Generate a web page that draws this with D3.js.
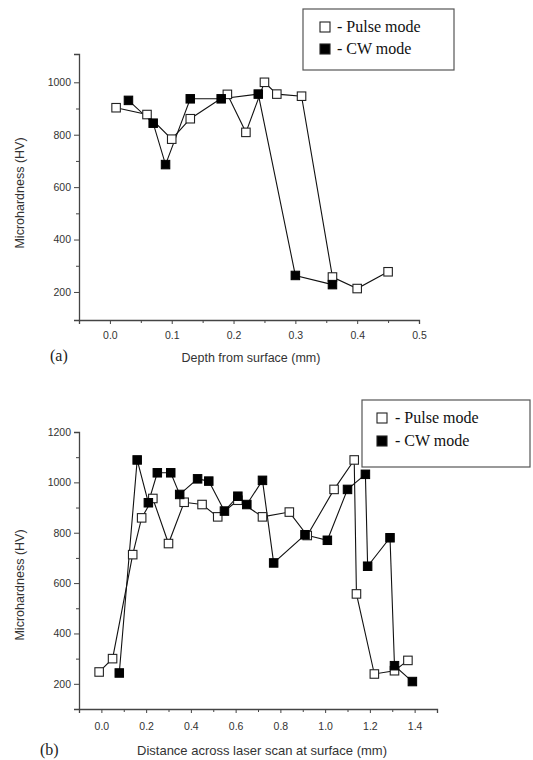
<!DOCTYPE html>
<html>
<head>
<meta charset="utf-8">
<script src="https://cdn.jsdelivr.net/npm/d3@7"></script>
<style>
  html, body { margin: 0; padding: 0; background: #fff; }
  svg { display: block; }
</style>
</head>
<body>
<svg id="chart" width="533" height="760"></svg>
<script>
// ---------- Data: chart (a) ----------
const aPulseX = [0.01, 0.06, 0.10, 0.13, 0.19, 0.22, 0.25, 0.27, 0.31, 0.36, 0.40, 0.45];
const aPulseY = [903, 877, 783, 861, 954, 809, 1000, 955, 947, 257, 213, 277];
const aCwX = [0.03, 0.07, 0.09, 0.13, 0.18, 0.24, 0.30, 0.36];
const aCwY = [931, 844, 686, 937, 937, 955, 263, 228];
const aXTicks = [0.0, 0.1, 0.2, 0.3, 0.4, 0.5];
const aXMinor = [-0.05, 0.05, 0.15, 0.25, 0.35, 0.45];
const aYTicks = [200, 400, 600, 800, 1000];
const aYMinor = [300, 500, 700, 900];

// ---------- Data: chart (b) ----------
const bPulseX = [-0.01, 0.05, 0.14, 0.18, 0.23, 0.30, 0.37, 0.45, 0.52, 0.61, 0.72, 0.84, 0.92, 1.04, 1.13, 1.14, 1.22, 1.31, 1.37];
const bPulseY = [247, 300, 713, 859, 936, 757, 921, 912, 863, 929, 863, 882, 789, 972, 1089, 557, 239, 252, 293];
const bCwX = [0.08, 0.16, 0.21, 0.25, 0.31, 0.35, 0.43, 0.48, 0.55, 0.61, 0.65, 0.72, 0.77, 0.91, 1.01, 1.10, 1.18, 1.19, 1.29, 1.31, 1.39];
const bCwY = [243, 1089, 919, 1038, 1038, 952, 1014, 1005, 886, 945, 912, 1008, 680, 792, 770, 972, 1032, 667, 780, 272, 209];
const bXTicks = [0.0, 0.2, 0.4, 0.6, 0.8, 1.0, 1.2, 1.4];
const bXMinor = [-0.1, 0.1, 0.3, 0.5, 0.7, 0.9, 1.1, 1.3, 1.5];
const bYTicks = [200, 400, 600, 800, 1000, 1200];
const bYMinor = [300, 500, 700, 900, 1100];

const seriesNames = ["- Pulse mode", "- CW mode"];
const yLabel = "Microhardness (HV)";

const svg = d3.select("#chart");
const sans = "'Liberation Sans', Arial, sans-serif";
const serif = "'Liberation Serif', 'Times New Roman', serif";
const axisColor = "#444";
const textColor = "#333";

function zip(xs, ys) { return xs.map((x, i) => [x, ys[i]]); }

function drawPanel(cfg) {
  const g = svg.append("g");
  const x = d3.scaleLinear().domain(cfg.xDomain).range(cfg.xRange);
  const y = d3.scaleLinear().domain(cfg.yDomain).range(cfg.yRange);

  // y axis (major)
  const yAxis = d3.axisLeft(y).tickValues(cfg.yTicks).tickSize(5).tickPadding(3).tickFormat(d3.format("d"));
  const ya = g.append("g").attr("transform", `translate(${cfg.xRange[0]},0)`).call(yAxis);
  ya.select(".domain").attr("stroke", axisColor).attr("stroke-width", 1.3);
  ya.selectAll(".tick line").attr("stroke", axisColor).attr("stroke-width", 1);
  ya.selectAll(".tick text").attr("font-family", sans).attr("font-size", 10.5).attr("fill", textColor);
  // y minor
  g.append("g").attr("transform", `translate(${cfg.xRange[0]},0)`)
    .call(d3.axisLeft(y).tickValues(cfg.yMinor).tickSize(3).tickFormat(""))
    .call(s => { s.select(".domain").remove(); s.selectAll(".tick line").attr("stroke", axisColor); });

  // x axis
  const xAxis = d3.axisBottom(x).tickValues(cfg.xTicks).tickSize(4).tickPadding(cfg.xPad).tickFormat(d3.format(".1f"));
  const xa = g.append("g").attr("transform", `translate(0,${cfg.yRange[0]})`).call(xAxis);
  xa.select(".domain").attr("stroke", axisColor).attr("stroke-width", 1.3);
  xa.selectAll(".tick line").attr("stroke", axisColor);
  xa.selectAll(".tick text").attr("font-family", sans).attr("font-size", 10.5).attr("fill", textColor);
  g.append("g").attr("transform", `translate(0,${cfg.yRange[0]})`)
    .call(d3.axisBottom(x).tickValues(cfg.xMinor).tickSize(3).tickFormat(""))
    .call(s => { s.select(".domain").remove(); s.selectAll(".tick line").attr("stroke", axisColor); });

  // lines
  const line = d3.line().x(d => x(d[0])).y(d => y(d[1]));
  const pulse = zip(cfg.pulseX, cfg.pulseY);
  const cw = zip(cfg.cwX, cfg.cwY);
  [pulse, cw].forEach(data => {
    g.append("path").datum(data).attr("d", line)
      .attr("fill", "none").attr("stroke", "#111").attr("stroke-width", 1.1);
  });
  const s = 8.5;
  g.selectAll(".pm").data(pulse).enter().append("rect")
    .attr("x", d => x(d[0]) - s / 2).attr("y", d => y(d[1]) - s / 2)
    .attr("width", s).attr("height", s)
    .attr("fill", "#fff").attr("stroke", "#222").attr("stroke-width", 1.1);
  g.selectAll(".cm").data(cw).enter().append("rect")
    .attr("x", d => x(d[0]) - s / 2).attr("y", d => y(d[1]) - s / 2)
    .attr("width", s).attr("height", s)
    .attr("fill", "#000").attr("stroke", "#000").attr("stroke-width", 1);

  // axis labels
  g.append("text").attr("transform", `translate(${cfg.yLabelX},${cfg.yLabelY}) rotate(-90)`)
    .attr("text-anchor", "middle").attr("font-family", sans).attr("font-size", 12.5)
    .attr("fill", textColor).text(yLabel);
  g.append("text").attr("x", cfg.xLabelX).attr("y", cfg.xLabelYPos)
    .attr("text-anchor", "middle").attr("font-family", sans).attr("font-size", cfg.xLabelSize)
    .attr("fill", textColor).text(cfg.xLabel);
  g.append("text").attr("x", cfg.tagX).attr("y", cfg.tagY)
    .attr("font-family", serif).attr("font-size", 16).attr("fill", "#222").text(cfg.tag);

  // legend
  const L = cfg.legend;
  g.append("rect").attr("x", L.x).attr("y", L.y).attr("width", L.w).attr("height", L.h)
    .attr("fill", "#fff").attr("stroke", "#555").attr("stroke-width", 1.2);
  const ls = 10;
  seriesNames.forEach((name, i) => {
    const cy = L.y + L.row0 + i * L.dy;
    g.append("rect").attr("x", L.symX - ls / 2).attr("y", cy - ls / 2).attr("width", ls).attr("height", ls)
      .attr("fill", i === 0 ? "#fff" : "#000").attr("stroke", "#222").attr("stroke-width", 1.1);
    g.append("text").attr("x", L.textX).attr("y", cy + 5)
      .attr("font-family", serif).attr("font-size", 16).attr("fill", "#111").text(name);
  });
}

drawPanel({
  xDomain: [-0.05, 0.5], xRange: [79, 419],
  yDomain: [93, 1108], yRange: [320, 54],
  xTicks: aXTicks, xMinor: aXMinor, yTicks: aYTicks, yMinor: aYMinor, xPad: 8,
  pulseX: aPulseX, pulseY: aPulseY, cwX: aCwX, cwY: aCwY,
  yLabelX: 24, yLabelY: 193,
  xLabel: "Depth from surface (mm)", xLabelX: 251, xLabelYPos: 362, xLabelSize: 12.5,
  tag: "(a)", tagX: 50, tagY: 361,
  legend: { x: 303, y: 9, w: 151, h: 61, row0: 18, dy: 22, symX: 325, textX: 337 }
});

drawPanel({
  xDomain: [-0.1, 1.5], xRange: [79, 437],
  yDomain: [100, 1200], yRange: [709, 432],
  xTicks: bXTicks, xMinor: bXMinor, yTicks: bYTicks, yMinor: bYMinor, xPad: 10,
  pulseX: bPulseX, pulseY: bPulseY, cwX: bCwX, cwY: bCwY,
  yLabelX: 24, yLabelY: 585,
  xLabel: "Distance across laser scan at surface (mm)", xLabelX: 262, xLabelYPos: 755, xLabelSize: 13,
  tag: "(b)", tagX: 40, tagY: 755,
  legend: { x: 362, y: 400, w: 168, h: 67, row0: 18, dy: 23, symX: 382, textX: 395 }
});
</script>
</body>
</html>
